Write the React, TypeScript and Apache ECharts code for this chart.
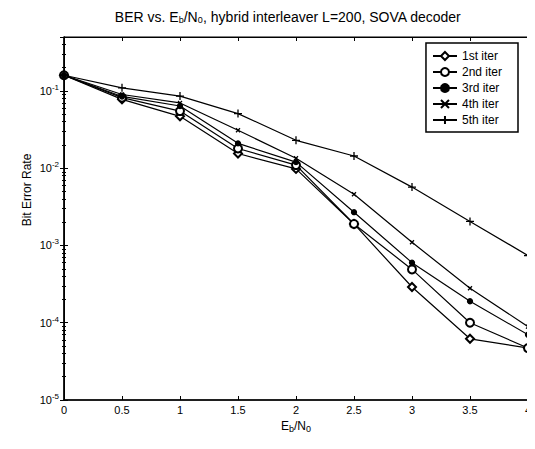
import React, { useEffect, useRef } from "react";
import * as echarts from "echarts";

const ebno = [0, 0.5, 1, 1.5, 2, 2.5, 3, 3.5, 4];
const seriesNames = ["1st iter", "2nd iter", "3rd iter", "4th iter", "5th iter"];
const iter1 = [0.16, 0.078, 0.047, 0.0155, 0.0098, 0.0019, 0.00029, 0.000062, 0.000047];
const iter2 = [0.16, 0.082, 0.055, 0.018, 0.011, 0.0019, 0.00049, 0.0001, 0.000047];
const iter3 = [0.16, 0.085, 0.064, 0.021, 0.012, 0.0027, 0.0006, 0.00019, 0.00007];
const iter4 = [0.16, 0.09, 0.07, 0.031, 0.0135, 0.0046, 0.0011, 0.00028, 0.000089];
const iter5 = [0.16, 0.11, 0.086, 0.051, 0.023, 0.0144, 0.0057, 0.00205, 0.00074];
const yTickExponents = [-1, -2, -3, -4, -5];
const titleText = "BER vs. E{sub|b}/N{sub|0}, hybrid interleaver L=200, SOVA decoder";
const yName = "Bit Error Rate";

const FONT = "Liberation Sans, Arial, Helvetica, sans-serif";

export default function App() {
  const ref = useRef<HTMLDivElement>(null);
  useEffect(() => {
    if (!ref.current) return;
    const chart = echarts.init(ref.current, undefined, { renderer: "svg" });
    const allData = [iter1, iter2, iter3, iter4, iter5];
    const symbols = [
      "emptyDiamond",
      "emptyCircle",
      "circle",
      "path://M0,0 L10,10 M10,0 L0,10",
      "path://M0,5 L10,5 M5,0 L5,10",
    ];
    const symbolSizes = [8, 8, 5, 4, 8];
    const series = allData.map((d, i) => ({
      name: seriesNames[i],
      type: "line",
      data: d.map((v, j) => [ebno[j], v]),
      symbol: symbols[i],
      symbolSize: symbolSizes[i],
      showAllSymbol: true,
      lineStyle: { color: "#000", width: 1.2 },
      itemStyle: {
        color: "#000",
        borderColor: "#000",
        borderWidth: 1.3,
      },
      xAxisIndex: 0,
      yAxisIndex: 0,
    }));
    const logFmt = (v: number) => {
      const e = Math.round(Math.log10(v));
      if (Math.abs(Math.log10(v) - e) > 1e-6) return "";
      if (!yTickExponents.includes(e)) return "";
      return "10{sup|" + e + "}";
    };
    const labelRich = { sup: { fontSize: 8, padding: [0, 0, 7, 0], fontFamily: FONT, color: "#000" } };
    const subRich = { sub: { fontSize: 9, padding: [6, 0, 0, 0], fontFamily: FONT, color: "#000" } };
    chart.setOption({
      animation: false,
      backgroundColor: "#fff",
      title: {
        text: titleText,
        left: 283,
        top: 4,
        textAlign: "center",
        textStyle: {
          fontFamily: FONT,
          fontSize: 14,
          fontWeight: "normal",
          color: "#000",
          rich: subRich,
        },
      },
      graphic: [
        {
          type: "text",
          x: 27,
          y: 190,
          rotation: Math.PI / 2,
          style: {
            text: yName,
            fontFamily: FONT,
            fontSize: 12,
            fill: "#000",
            align: "center",
            verticalAlign: "middle",
          },
        },
      ],
      grid: { left: 64, right: 7, top: 37, bottom: 49, show: true, borderColor: "#000", borderWidth: 1 },
      legend: {
        orient: "vertical",
        right: 17,
        top: 43,
        data: seriesNames,
        backgroundColor: "#fff",
        borderColor: "#000",
        borderWidth: 1.5,
        padding: [7, 16, 6, 6],
        itemGap: 4,
        itemWidth: 24,
        itemHeight: 10,
        textStyle: { fontFamily: FONT, fontSize: 12, color: "#000" },
      },
      xAxis: [
        {
          type: "value",
          min: 0,
          max: 4,
          interval: 0.5,
          name: "E{sub|b}/N{sub|0}",
          nameLocation: "middle",
          nameGap: 16,
          nameTextStyle: {
            fontFamily: FONT,
            fontSize: 12,
            color: "#000",
            rich: subRich,
          },
          axisLine: { lineStyle: { color: "#000", width: 1.5 } },
          axisTick: { inside: true, length: 4, lineStyle: { color: "#000" } },
          axisLabel: { fontFamily: FONT, fontSize: 11, color: "#000", margin: 4 },
          splitLine: { show: false },
        },
        {
          type: "value",
          position: "top",
          min: 0,
          max: 4,
          interval: 0.5,
          axisLine: { lineStyle: { color: "#000", width: 1 } },
          axisTick: { inside: true, length: 4, lineStyle: { color: "#000" } },
          axisLabel: { show: false },
          splitLine: { show: false },
        },
      ],
      yAxis: [
        {
          type: "log",
          logBase: 10,
          min: 1e-5,
          max: 0.5,
          axisLine: { lineStyle: { color: "#000", width: 1.5 } },
          axisTick: { inside: true, length: 4, lineStyle: { color: "#000" } },
          minorTick: { show: true, splitNumber: 9, length: 2, lineStyle: { color: "#000" } },
          axisLabel: { fontFamily: FONT, fontSize: 11, color: "#000", margin: 5, formatter: logFmt, rich: labelRich },
          splitLine: { show: false },
        },
        {
          type: "log",
          logBase: 10,
          min: 1e-5,
          max: 0.5,
          position: "right",
          axisLine: { lineStyle: { color: "#000", width: 1 } },
          axisTick: { inside: true, length: 4, lineStyle: { color: "#000" } },
          minorTick: { show: true, splitNumber: 9, length: 2, lineStyle: { color: "#000" } },
          axisLabel: { show: false },
          splitLine: { show: false },
        },
      ],
      series,
    });
    return () => chart.dispose();
  }, []);
  return <div ref={ref} style={{ width: 535, height: 449, margin: -8 }} />;
}
